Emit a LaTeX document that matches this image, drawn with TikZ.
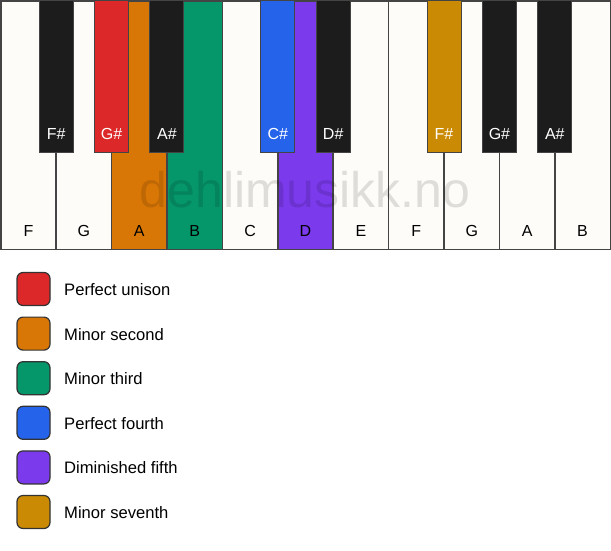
\documentclass[tikz,border=0pt]{standalone}
\usepackage{fontspec}
\setmainfont{Liberation Sans}
\definecolor{pkwhite}{HTML}{FDFCF9}
\definecolor{pkblack}{HTML}{1C1C1C}
\definecolor{pkline}{HTML}{444444}
\definecolor{pkred}{HTML}{DC2828}
\definecolor{pkorange}{HTML}{D97706}
\definecolor{pkgreen}{HTML}{059669}
\definecolor{pkblue}{HTML}{2563EB}
\definecolor{pkpurple}{HTML}{7C3AED}
\definecolor{pkgold}{HTML}{CA8A04}

\begin{document}
\begin{tikzpicture}[x=1pt, y=-1pt, font=\fontsize{16}{19}\selectfont]
\useasboundingbox (0,0) rectangle (611,550);

\foreach \n/\lab/\col in {0/F/pkwhite, 1/G/pkwhite, 2/A/pkorange, 3/B/pkgreen, 4/C/pkwhite, 5/D/pkpurple, 6/E/pkwhite, 7/F/pkwhite, 8/G/pkwhite, 9/A/pkwhite, 10/B/pkwhite} {
  \draw[pkline, line width=1.5, fill=\col] (0.75+55.41*\n, 0.75) rectangle ++(55.41, 248.5);
  \node[anchor=base] (white\n) at (0.75+55.41*\n+27.7, 236.5) {\lab};
}

\node[anchor=base, font=\fontsize{50}{60}\selectfont, text=black, text opacity=0.12] (mark) at (305, 207) {dehlimusikk.no};

\foreach \n/\lab/\col in {1/F\#/pkblack, 2/G\#/pkred, 3/A\#/pkblack, 5/C\#/pkblue, 6/D\#/pkblack, 8/F\#/pkgold, 9/G\#/pkblack, 10/A\#/pkblack} {
  \draw[pkline, line width=1, fill=\col] (0.75+55.41*\n-17, 0.75) rectangle ++(34, 152);
  \node[anchor=base, white] (black\n) at (0.75+55.41*\n, 139) {\lab};
}

\foreach \col/\txt [count=\i from 0] in {pkred/Perfect unison, pkorange/Minor second, pkgreen/Minor third, pkblue/Perfect fourth, pkpurple/Diminished fifth, pkgold/Minor seventh} {
  \draw[black!80, line width=1.2, rounded corners=6, fill=\col] (17, 272.5+44.6*\i) rectangle ++(33, 33);
  \node[anchor=base west, font=\fontsize{16.6}{20}\selectfont] (legend\i) at (60.7, 295.5+44.6*\i) {\txt};
}

\end{tikzpicture}
\end{document}
